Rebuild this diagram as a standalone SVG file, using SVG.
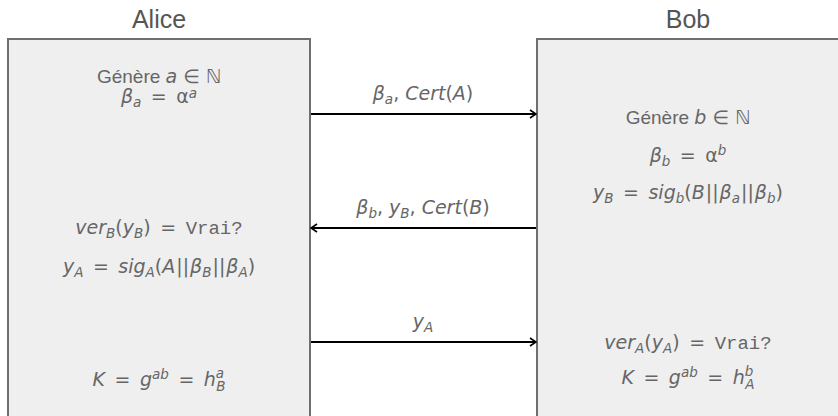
<svg xmlns="http://www.w3.org/2000/svg" width="838" height="416" viewBox="0 0 838 416">
<style>
.box{fill:#efefef;stroke:#6f6f6f;stroke-width:2}
.title{font-family:"Liberation Sans",Arial,sans-serif;font-size:25px;fill:#555;text-anchor:middle}
.t{font-family:"DejaVu Sans",sans-serif;font-size:19px;fill:#666;text-anchor:middle}
.g{font-family:"Liberation Sans",Arial,sans-serif;font-size:19px}
.i{font-style:italic}
.s{font-size:13.5px}
.m{font-family:"Liberation Mono","DejaVu Sans Mono",monospace;font-size:19px}
.arr{stroke:#000;stroke-width:1.8;fill:none}
</style>
<defs>
<marker id="ah" viewBox="0 0 10 10" refX="9" refY="5" markerWidth="10" markerHeight="10" markerUnits="userSpaceOnUse" orient="auto">
<path d="M3,1 L9,5 L3,9" fill="none" stroke="#000" stroke-width="1.6"/>
</marker>
</defs>
<g id="alice">
<text class="title" x="159" y="28">Alice</text>
<rect class="box" x="8" y="39" width="302" height="390"/>
<text class="t" x="159" y="83"><tspan class="g">Génère </tspan><tspan class="i">a</tspan> ∈ ℕ<tspan x="159" dy="20" class="i">β</tspan><tspan class="s i" dy="4">a</tspan><tspan dy="-4">&#8194;=&#8194;α</tspan><tspan class="s i" dy="-5">a</tspan></text>
<text class="t" x="159" y="234"><tspan class="i">ver</tspan><tspan class="s i" dy="4">B</tspan><tspan dy="-4">(</tspan><tspan class="i">y</tspan><tspan class="s i" dy="4">B</tspan><tspan dy="-4">)&#8194;=&#8194;</tspan><tspan class="m">Vrai?</tspan></text>
<text class="t" x="159" y="273"><tspan class="i">y</tspan><tspan class="s i" dy="4">A</tspan><tspan dy="-4">&#8194;=&#8194;</tspan><tspan class="i">sig</tspan><tspan class="s i" dy="4">A</tspan><tspan dy="-4">(</tspan><tspan class="i">A</tspan><tspan dx="1">|</tspan><tspan>|</tspan><tspan class="i" dx="1">β</tspan><tspan class="s i" dy="4">B</tspan><tspan dy="-4" dx="1">|</tspan><tspan>|</tspan><tspan class="i" dx="1">β</tspan><tspan class="s i" dy="4">A</tspan><tspan dy="-4">)</tspan></text>
<text class="t" x="159" y="386"><tspan class="i">K</tspan>&#8194;=&#8194;<tspan class="i">g</tspan><tspan class="s i" dy="-7">ab</tspan><tspan dy="7">&#8194;=&#8194;</tspan><tspan class="i">h</tspan><tspan class="s i" dy="-8">a</tspan><tspan class="s i" dx="-8" dy="13">B</tspan></text>
</g>
<g id="bob">
<text class="title" x="688" y="28">Bob</text>
<rect class="box" x="537" y="39" width="302" height="390"/>
<text class="t" x="688" y="124"><tspan class="g">Génère </tspan><tspan class="i">b</tspan> ∈ ℕ</text>
<text class="t" x="688" y="162"><tspan class="i">β</tspan><tspan class="s i" dy="4">b</tspan><tspan dy="-4">&#8194;=&#8194;α</tspan><tspan class="s i" dy="-7">b</tspan></text>
<text class="t" x="688" y="199"><tspan class="i">y</tspan><tspan class="s i" dy="4">B</tspan><tspan dy="-4">&#8194;=&#8194;</tspan><tspan class="i">sig</tspan><tspan class="s i" dy="4">b</tspan><tspan dy="-4">(</tspan><tspan class="i">B</tspan><tspan dx="1">|</tspan><tspan>|</tspan><tspan class="i" dx="1">β</tspan><tspan class="s i" dy="4">a</tspan><tspan dy="-4" dx="1">|</tspan><tspan>|</tspan><tspan class="i" dx="1">β</tspan><tspan class="s i" dy="4">b</tspan><tspan dy="-4">)</tspan></text>
<text class="t" x="688" y="349"><tspan class="i">ver</tspan><tspan class="s i" dy="4">A</tspan><tspan dy="-4">(</tspan><tspan class="i">y</tspan><tspan class="s i" dy="4">A</tspan><tspan dy="-4">)&#8194;=&#8194;</tspan><tspan class="m">Vrai?</tspan></text>
<text class="t" x="688" y="384"><tspan class="i">K</tspan>&#8194;=&#8194;<tspan class="i">g</tspan><tspan class="s i" dy="-7">ab</tspan><tspan dy="7">&#8194;=&#8194;</tspan><tspan class="i">h</tspan><tspan class="s i" dy="-8">b</tspan><tspan class="s i" dx="-8" dy="13">A</tspan></text>
</g>
<g id="connectors">
<line class="arr" x1="311" y1="114" x2="536" y2="114" marker-end="url(#ah)"/>
<line class="arr" x1="536" y1="228" x2="311" y2="228" marker-end="url(#ah)"/>
<line class="arr" x1="311" y1="342" x2="536" y2="342" marker-end="url(#ah)"/>
<text class="t" x="423" y="100"><tspan class="i">β</tspan><tspan class="s i" dy="4">a</tspan><tspan dy="-4">, </tspan><tspan class="i">Cert</tspan>(<tspan class="i">A</tspan>)</text>
<text class="t" x="423" y="214"><tspan class="i">β</tspan><tspan class="s i" dy="4">b</tspan><tspan dy="-4">, </tspan><tspan class="i">y</tspan><tspan class="s i" dy="4">B</tspan><tspan dy="-4">, </tspan><tspan class="i">Cert</tspan>(<tspan class="i">B</tspan>)</text>
<text class="t" x="423" y="328"><tspan class="i">y</tspan><tspan class="s i" dy="4">A</tspan></text>
</g>
</svg>
